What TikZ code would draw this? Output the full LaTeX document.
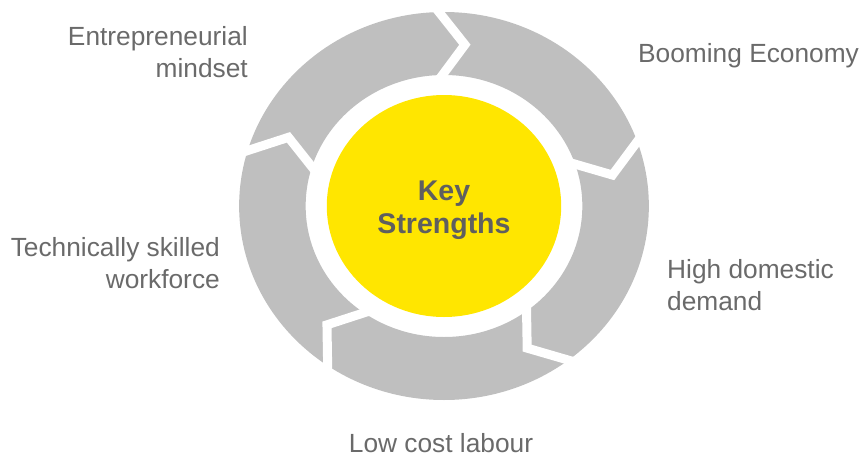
\documentclass[tikz,border=0pt]{standalone}
\usepackage{fontspec}
\setmainfont{Liberation Sans}
\definecolor{ringgray}{HTML}{BFBFBF}
\definecolor{keyyellow}{HTML}{FFE600}
\definecolor{labelgray}{HTML}{6A6A6A}
\definecolor{keygray}{HTML}{5F5F5F}
\begin{document}
\begin{tikzpicture}[x=1pt,y=1pt,
        strength/.style={text=labelgray,inner sep=0pt,font=\fontsize{26.3}{32}\selectfont},
        keytext/.style={text=keygray,inner sep=0pt,align=center,font=\fontsize{28.5}{33}\selectfont\bfseries}]
            \useasboundingbox (-444,-253) rectangle (416,206);
            \begin{scope}[xscale=1.056]
                \fill[ringgray,even odd rule] (0,0) circle (194) (0,0) circle (131);
                \foreach \a in {93,21,-51,-123,165}
                    \draw[white,line width=9pt,line join=miter] (\a:202) -- (\a-10:162.5) -- (\a:124);
                \fill[keyyellow] (0,0) circle (111);
            \end{scope}
            \node[keytext,anchor=base] (key) at (0,-27) {Key\\Strengths};
            \node[strength,align=right,anchor=base east] (mindset) at (-196,129) {Entrepreneurial\\mindset};
            \node[strength,anchor=base west] (economy) at (194,144) {Booming Economy};
            \node[strength,align=right,anchor=base east] (workforce) at (-224,-82) {Technically skilled\\workforce};
            \node[strength,align=left,anchor=base west] (demand) at (223,-104) {High domestic\\demand};
            \node[strength,anchor=base] (labour) at (-3,-246) {Low cost labour};
        \end{tikzpicture}
\end{document}
